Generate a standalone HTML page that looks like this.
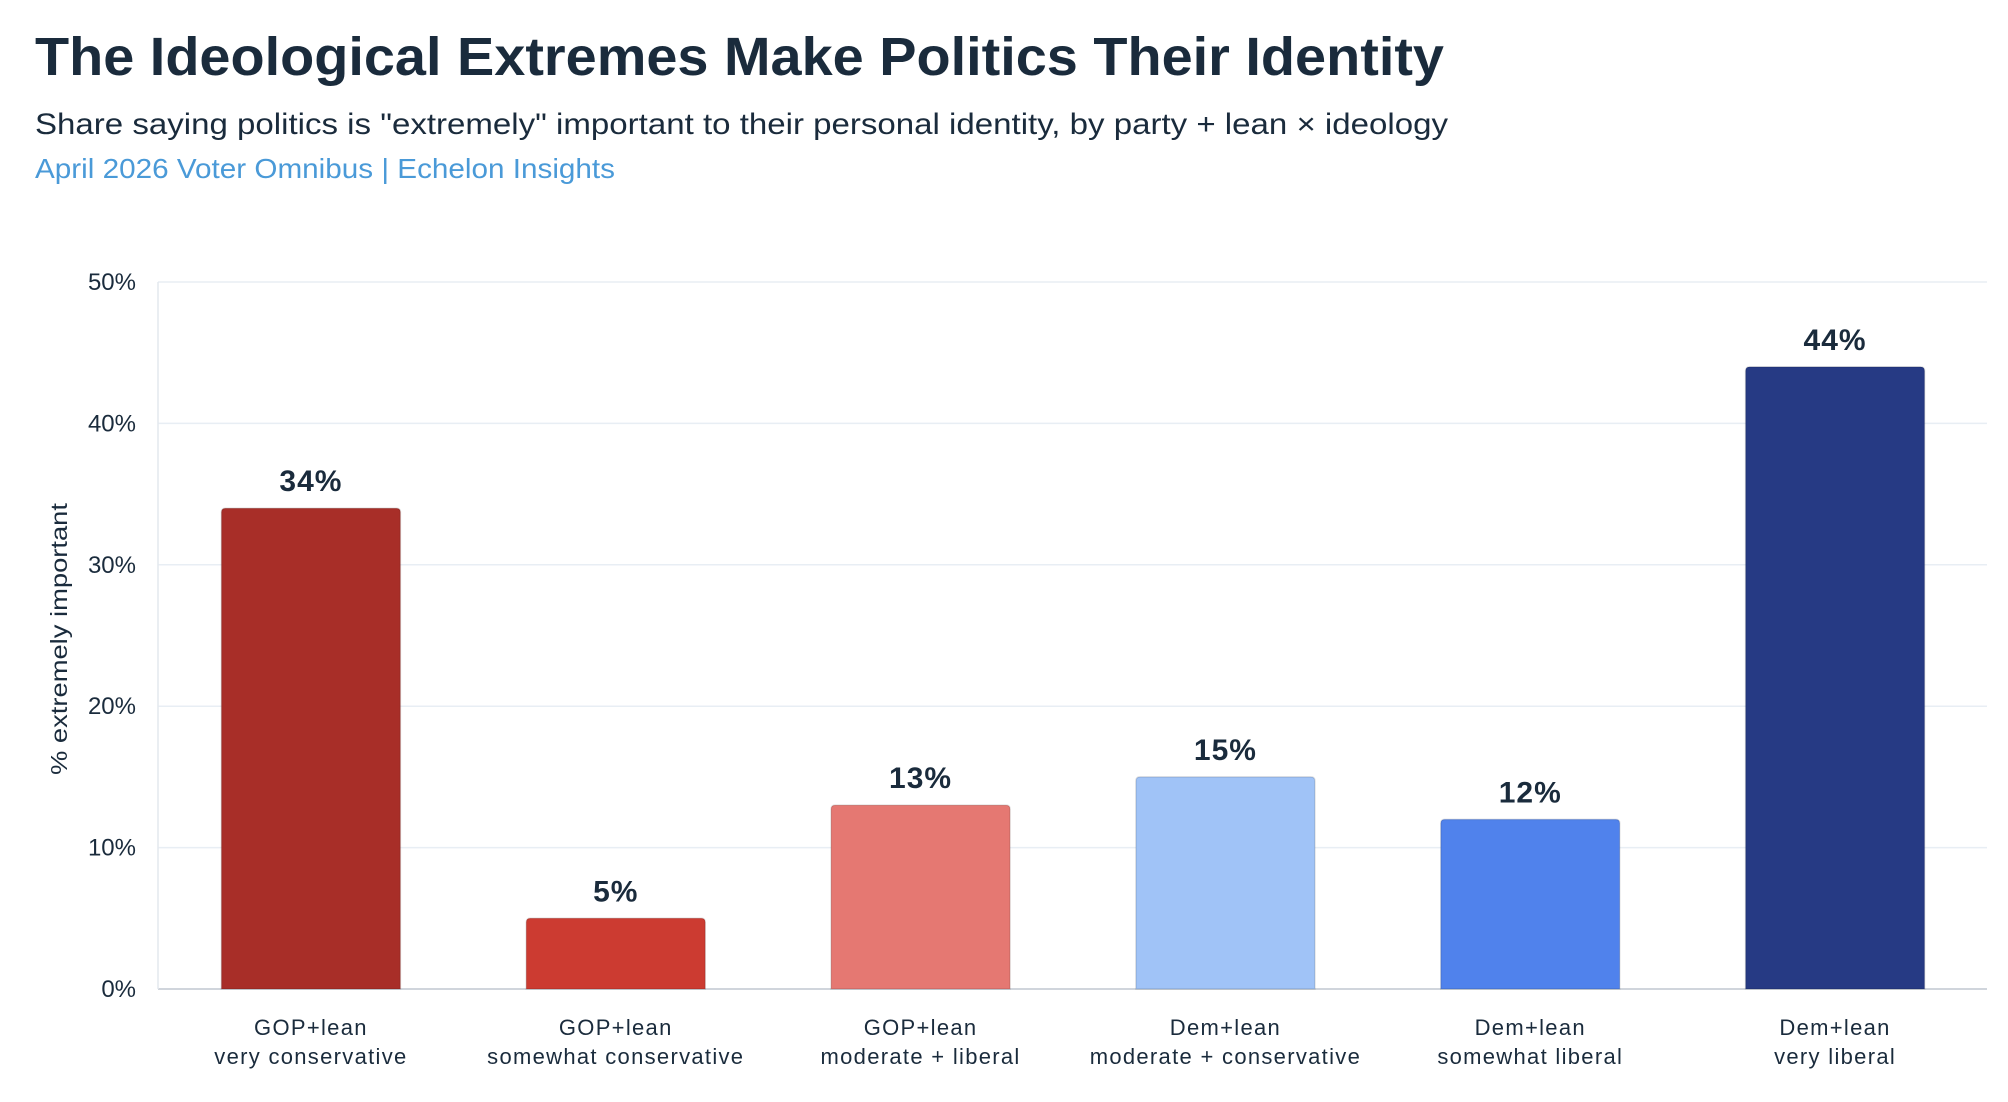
<!DOCTYPE html>
<html><head><meta charset="utf-8"><style>
html,body{margin:0;padding:0;background:#fff;}
svg{display:block;font-family:"Liberation Sans","DejaVu Sans",sans-serif;}
</style></head><body>
<svg id="chart" width="2008" height="1102" viewBox="0 0 2008 1102" xmlns="http://www.w3.org/2000/svg">
<text x="35" y="75" font-size="54" font-weight="bold" fill="#1a2b3c" textLength="1409" lengthAdjust="spacingAndGlyphs">The Ideological Extremes Make Politics Their Identity</text>
<text x="35" y="134" font-size="30" fill="#1a2b3c" textLength="1413" lengthAdjust="spacingAndGlyphs">Share saying politics is "extremely" important to their personal identity, by party + lean × ideology</text>
<text x="35" y="178" font-size="28" fill="#4a9ad8" textLength="580" lengthAdjust="spacingAndGlyphs">April 2026 Voter Omnibus | Echelon Insights</text>
<text transform="translate(67,639) rotate(-90)" text-anchor="middle" font-size="23" fill="#1a2b3c" textLength="272" lengthAdjust="spacingAndGlyphs">% extremely important</text>
<g id="grid"></g><g id="bars"></g>
</svg>
<script>
const categoriesTop = ["GOP+lean","GOP+lean","GOP+lean","Dem+lean","Dem+lean","Dem+lean"];
const categoriesBottom = ["very conservative","somewhat conservative","moderate + liberal","moderate + conservative","somewhat liberal","very liberal"];
const values = [34,5,13,15,12,44];
const colors = ["#a82e28","#cc3b31","#e57872","#a0c3f7","#5082ec","#263a84"];
const tickValues = [0,10,20,30,40,50];
const NS="http://www.w3.org/2000/svg";
const plotL=158, plotR=1987, y0=989, y50=282;
function y(v){return y0-(v/50)*(y0-y50);}
const step=(plotR-plotL)/values.length;
function xc(i){return plotL+step*(i+0.5)+0.5;}
const bw=179;
const grid=document.getElementById('grid'), bars=document.getElementById('bars');
function mk(t,a,p){const e=document.createElementNS(NS,t);for(const k in a)e.setAttribute(k,a[k]);p.appendChild(e);return e;}
tickValues.forEach(t=>{
  const l=mk('line',{x1:plotL,x2:plotR,y1:y(t),y2:y(t),stroke:t===0?'#d0d5dc':'#e8eef4','stroke-width':t===0?2:1.5},grid);
  
  
  const tx=mk('text',{x:136,y:y(t)+8,'text-anchor':'end','font-size':24,fill:'#1a2b3c'},grid);
  tx.textContent=t+'%';
  
  
});
const ax=mk('line',{x1:plotL,x2:plotL,y1:y50,y2:y0,stroke:'#e4e8ee','stroke-width':1.5},grid);


values.forEach((v,i)=>{
  const x=xc(i)-bw/2, top=y(v), r=4;
  const p=mk('path',{d:`M${x},${y0} L${x},${top+r} Q${x},${top} ${x+r},${top} L${x+bw-r},${top} Q${x+bw},${top} ${x+bw},${top+r} L${x+bw},${y0} Z`,fill:colors[i],stroke:'rgba(0,0,0,0.12)','stroke-width':1.5},bars);
  
  
  const vl=mk('text',{x:xc(i),y:top-17,'text-anchor':'middle','font-size':30,'font-weight':'bold','letter-spacing':1,fill:'#1a2b3c'},bars);
  vl.textContent=v+'%';
  
  
  const c1=mk('text',{x:xc(i),y:1035,'text-anchor':'middle','font-size':22,'letter-spacing':1.3,fill:'#1a2b3c'},bars);
  c1.textContent=categoriesTop[i];
  
  
  const c2=mk('text',{x:xc(i),y:1064,'text-anchor':'middle','font-size':22,'letter-spacing':1.3,fill:'#1a2b3c'},bars);
  c2.textContent=categoriesBottom[i];
  
  
});
</script>
</body></html>
